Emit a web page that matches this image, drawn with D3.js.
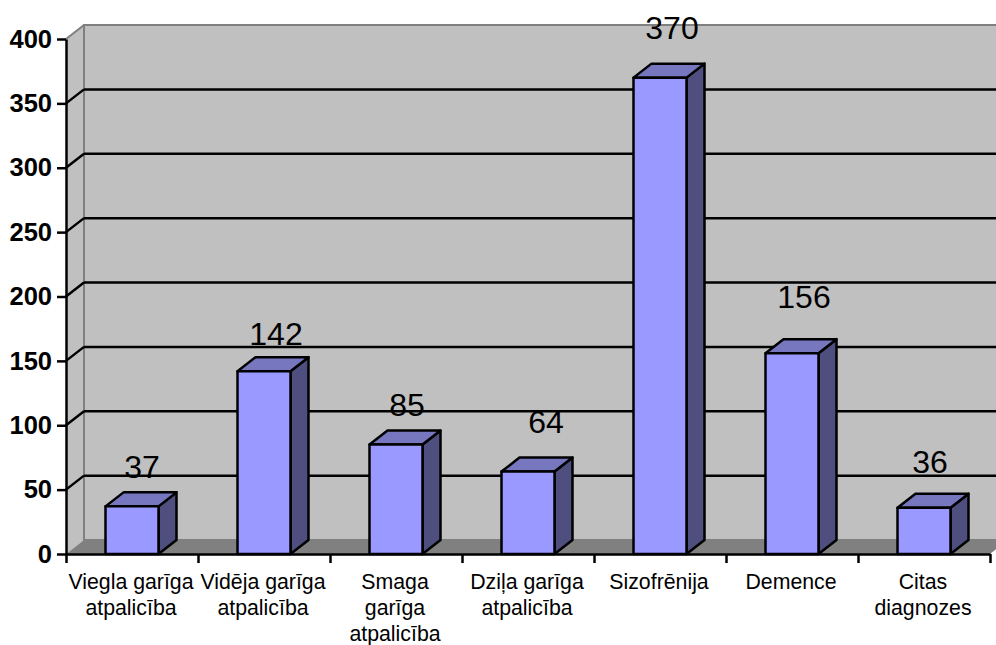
<!DOCTYPE html>
<html>
<head>
<meta charset="utf-8">
<script src="https://cdn.jsdelivr.net/npm/d3@7"></script>
<style>
    html, body { margin: 0; padding: 0; background: #fff; overflow: hidden; }
    svg { display: block; }
    text { font-family: "Liberation Sans", Arial, sans-serif; fill: #000; }
</style>
</head>
<body>
<div id="chart"></div>
<script>
// Chart data
const categories = [
    "Viegla garīga\natpalicība",
    "Vidēja garīga\natpalicība",
    "Smaga\ngarīga\natpalicība",
    "Dziļa garīga\natpalicība",
    "Sizofrēnija",
    "Demence",
    "Citas\ndiagnozes"
];
const values = [37, 142, 85, 64, 370, 156, 36];
const yTicks = [0, 50, 100, 150, 200, 250, 300, 350, 400];

const width = 996, height = 645;
const plot = { left: 66, right: 990, top: 39, bottom: 554 };
const depth = { x: 18, y: 14 };   // fake 3D offset of the back wall
const barWidth = 53;

// labels do not sit at a constant distance in the original, so nudge each one by hand
const labelLift = [28, 26, 29, 39, 39, 45, 35];
const labelShift = [-2, 0, -1, 6, 0, 0, -6];

const svg = d3.select("#chart").append("svg")
    .attr("width", width)
    .attr("height", height);

const xScale = d3.scaleBand()
    .domain(categories)
    .range([plot.left, plot.right]);

const yScale = d3.scaleLinear()
    .domain([0, 400])
    .range([plot.bottom, plot.top]);

const wallGray = "#c0c0c0", floorGray = "#808080";
const backLeft = plot.left + depth.x, backRight = plot.right + depth.x;
const backTop = yScale(400) - depth.y, backBottom = yScale(0) - depth.y;

const points = p => p.map(d => d.join(",")).join(" ");

// Side wall and back wall
svg.append("polygon")
    .attr("points", points([[plot.left, yScale(400)], [backLeft, backTop], [backLeft, backBottom], [plot.left, yScale(0)]]))
    .style("fill", wallGray);

svg.append("rect")
    .attr("x", backLeft)
    .attr("y", backTop)
    .attr("width", backRight - backLeft)
    .attr("height", backBottom - backTop)
    .style("fill", wallGray)
    .style("stroke", floorGray)
    .style("stroke-width", 2);

svg.append("line")
    .attr("x1", plot.left).attr("y1", yScale(400))
    .attr("x2", backLeft).attr("y2", backTop)
    .style("stroke", floorGray)
    .style("stroke-width", 2);

// Floor
svg.append("polygon")
    .attr("points", points([[plot.left, yScale(0)], [backLeft, backBottom], [backRight, backBottom], [plot.right, yScale(0)]]))
    .style("fill", floorGray);

// Gridlines: short diagonal on the side wall, then across the back wall
const gridTicks = yTicks.filter(d => d > 0 && d < 400);
const grid = svg.append("g");
grid.selectAll(".diag")
    .data(gridTicks)
    .enter().append("line")
    .attr("x1", plot.left).attr("y1", d => yScale(d))
    .attr("x2", backLeft).attr("y2", d => yScale(d) - depth.y);
grid.selectAll(".back")
    .data(gridTicks)
    .enter().append("line")
    .attr("x1", backLeft).attr("y1", d => yScale(d) - depth.y)
    .attr("x2", backRight).attr("y2", d => yScale(d) - depth.y);
grid.selectAll("line")
    .style("stroke", "#000")
    .style("stroke-width", 2.5);

// Bars
const data = categories.map((c, i) => ({ category: c, value: values[i], lift: labelLift[i], shift: labelShift[i] }));
const barX = d => xScale(d.category) + (xScale.bandwidth() - barWidth) / 2;

const bars = svg.selectAll(".bar")
    .data(data)
    .enter().append("g")
    .attr("class", "bar")
    .style("stroke", "#000")
    .style("stroke-width", 2.5)
    .style("stroke-linejoin", "round");

bars.append("polygon")
    .attr("points", d => {
        const x = barX(d) + barWidth, y = yScale(d.value);
        return points([[x, y], [x + depth.x, y - depth.y], [x + depth.x, yScale(0) - depth.y], [x, yScale(0)]]);
    })
    .style("fill", "#4f4f7f");

bars.append("polygon")
    .attr("points", d => {
        const x = barX(d), y = yScale(d.value);
        return points([[x, y], [x + depth.x, y - depth.y], [x + barWidth + depth.x, y - depth.y], [x + barWidth, y]]);
    })
    .style("fill", "#7777bf");

bars.append("rect")
    .attr("x", barX)
    .attr("y", d => yScale(d.value))
    .attr("width", barWidth)
    .attr("height", d => yScale(0) - yScale(d.value))
    .style("fill", "#9999ff");

// Value labels
svg.selectAll(".value-label")
    .data(data)
    .enter().append("text")
    .attr("class", "value-label")
    .attr("x", d => barX(d) + barWidth / 2 + 12 + d.shift)
    .attr("y", d => yScale(d.value) - d.lift)
    .attr("text-anchor", "middle")
    .style("font-size", "32px")
    .text(d => d.value);

// Y axis
const yAxis = svg.append("g")
    .attr("transform", "translate(" + plot.left + ",0)")
    .call(d3.axisLeft(yScale).tickValues(yTicks).tickSize(9).tickSizeOuter(0).tickPadding(5));
yAxis.selectAll(".tick text")
    .style("font-size", "25.5px")
    .style("font-weight", "bold");

// X axis, ticks fall on the band edges
const edgeScale = d3.scaleLinear().domain([0, categories.length]).range([plot.left, plot.right]);
const xAxis = svg.append("g")
    .attr("transform", "translate(0," + plot.bottom + ")")
    .call(d3.axisBottom(edgeScale).ticks(categories.length).tickSize(9).tickSizeOuter(0).tickFormat(""));

svg.selectAll(".domain, .tick line")
    .style("stroke", "#000")
    .style("stroke-width", 2.5);

// Category labels, one tspan per line
const catLabels = svg.selectAll(".cat-label")
    .data(categories)
    .enter().append("text")
    .attr("class", "cat-label")
    .attr("text-anchor", "middle")
    .style("font-size", "21.3px");

catLabels.selectAll("tspan")
    .data(d => d.split("\n").map(line => ({ line: line, category: d })))
    .enter().append("tspan")
    .attr("x", d => xScale(d.category) + xScale.bandwidth() / 2 - 1)
    .attr("y", (d, i) => plot.bottom + 34.5 + i * 26.3)
    .text(d => d.line);
</script>
</body>
</html>
